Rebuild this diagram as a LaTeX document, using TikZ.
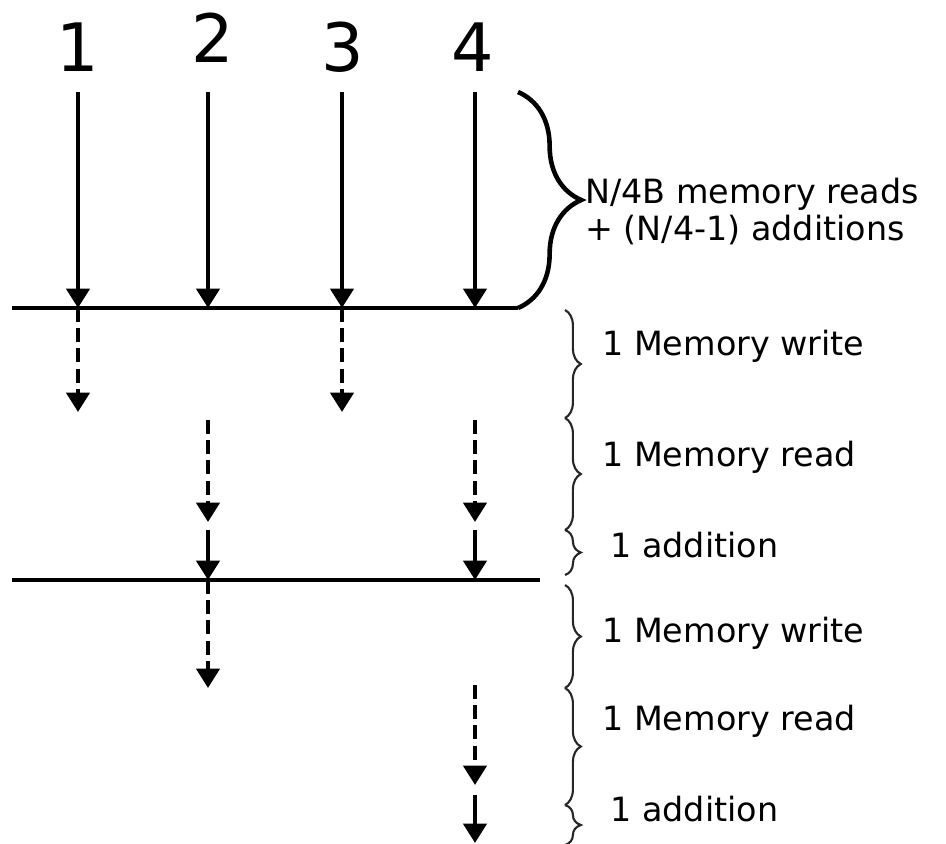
\documentclass[tikz,border=0pt]{standalone}
\usepackage{fontspec}
\setmainfont{DejaVu Sans}
\usetikzlibrary{arrows.meta, positioning, decorations.pathreplacing}

\begin{document}
\begin{tikzpicture}[
    x=0.02cm, y=-0.02cm,
    num/.style={anchor=base, inner sep=0pt, font=\fontsize{38}{38}\selectfont},
    lbl/.style={anchor=base west, inner sep=0pt, font=\fontsize{19}{21}\selectfont},
    arrow/.style={-{Triangle[width=13pt,length=11pt]}, line width=2.6pt},
    darrow/.style={arrow, dash pattern=on 8pt off 3.5pt},
    bar/.style={line width=2.6pt},
    bigbrace/.style={decorate, decoration={brace, amplitude=36pt}, line width=2.6pt},
    smallbrace/.style={decorate, decoration={brace, amplitude=9pt}, line width=1.2pt, black!85}
]
\useasboundingbox (0,0) rectangle (946,843);

\node[num] (n1) at (78,71)  {1};
\node[num] (n2) at (213,62) {2};
\node[num] (n3) at (343,71) {3};
\node[num] (n4) at (473,71) {4};

\coordinate (t1) at (78,92);
\coordinate (t2) at (208,92);
\coordinate (t3) at (342,92);
\coordinate (t4) at (475,92);

\coordinate (l1w) at (12,308);
\coordinate (l1e) at (518,308);
\coordinate (b1) at (78,308);
\coordinate (b2) at (208,308);
\coordinate (b3) at (342,308);
\coordinate (b4) at (475,308);
\coordinate (bt) at (518,92);

\coordinate (l2w) at (12,580);
\coordinate (l2e) at (540,580);
\coordinate (c2) at (208,580);
\coordinate (c4) at (475,580);

\draw[bar] (l1w) -- (l1e);
\draw[bar] (l2w) -- (l2e);
\draw[bigbrace] (bt) -- (l1e);

\draw[arrow] (t1) -- (b1);
\draw[arrow] (t2) -- (b2);
\draw[arrow] (t3) -- (b3);
\draw[arrow] (t4) -- (b4);

\node[lbl] (reads) at (585,203) {N/4B memory reads};
\node[lbl] (adds)  at (585,240) {+ (N/4-1) additions};

% first level
\coordinate (w1) at (78,412);
\coordinate (w3) at (342,412);
\coordinate (r2s) at (208,420);
\coordinate (r2e) at (208,522);
\coordinate (a2s) at (208,530);
\coordinate (r4s) at (475,420);
\coordinate (r4e) at (475,522);
\coordinate (a4s) at (475,530);

\draw[darrow] (b1) -- (w1);
\draw[darrow] (b3) -- (w3);
\draw[darrow] (r2s) -- (r2e);
\draw[darrow] (r4s) -- (r4e);
\draw[arrow] (a2s) -- (c2);
\draw[arrow] (a4s) -- (c4);

\draw[smallbrace] (565,310) -- (565,418);
\draw[smallbrace] (565,418) -- (565,530);
\draw[smallbrace] (565,530) -- (565,575);
\node[lbl] (wr1) at (602,355) {1 Memory write};
\node[lbl] (rd1) at (602,466) {1 Memory read};
\node[lbl] (ad1) at (610,557) {1 addition};

% second level
\coordinate (w2) at (208,688);
\coordinate (r4s') at (475,685);
\coordinate (r4e') at (475,785);
\coordinate (a4s') at (475,795);
\coordinate (a4e') at (475,843);

\draw[darrow] (c2) -- (w2);
\draw[darrow] (r4s') -- (r4e');
\draw[arrow] (a4s') -- (a4e');

\draw[smallbrace] (565,585) -- (565,688);
\draw[smallbrace] (565,688) -- (565,805);
\draw[smallbrace] (565,805) -- (565,845);
\node[lbl] (wr2) at (602,642) {1 Memory write};
\node[lbl] (rd2) at (602,730) {1 Memory read};
\node[lbl] (ad2) at (610,821) {1 addition};

\end{tikzpicture}
\end{document}
